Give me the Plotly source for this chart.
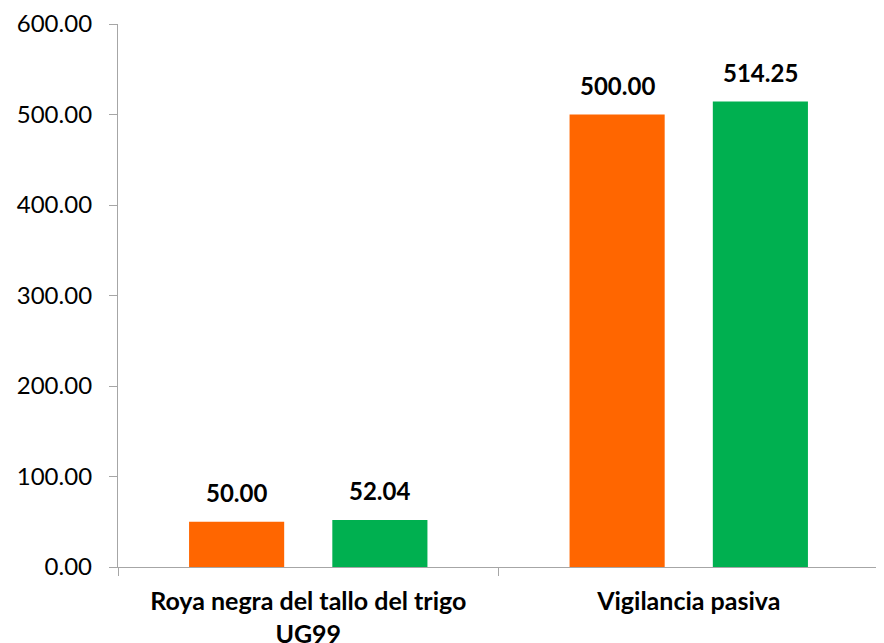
import plotly.graph_objects as go

categories = ["Roya negra del tallo del trigo<br>UG99", "Vigilancia pasiva"]
series_a = [50.00, 500.00]
series_b = [52.04, 514.25]
series_names = ["Programado", "Alcanzado"]
colors = ["#FF6600", "#00B050"]

# page body has an 8px default margin; size the figure to fit the window
W, H = 876, 635
ml, mr, mt, mb = 110, 5, 16, 76
bargap = 0.247
bargroupgap = 0.336
font = "Lato"

fig = go.Figure()
for name, vals, c in zip(series_names, [series_a, series_b], colors):
    fig.add_trace(go.Bar(x=categories, y=vals, name=name, marker=dict(color=c, line=dict(width=0)),
                         hoverinfo="y"))

# data labels
plot_w = W - ml - mr
cat_w = plot_w / len(categories)
slot = cat_w * (1 - bargap) / 2
offsets = [-slot / 2, slot / 2]
for vals, off in zip([series_a, series_b], offsets):
    for cat, v in zip(categories, vals):
        fig.add_annotation(x=cat, y=v, xref="x", yref="y", text=f"<b>{v:.2f}</b>",
                           showarrow=False, xshift=off, yshift=13, yanchor="bottom",
                           font=dict(family=font, size=24, color="black"))

fig.update_layout(
    width=W, height=H, margin=dict(l=ml, r=mr, t=mt, b=mb, pad=0),
    paper_bgcolor="white", plot_bgcolor="white",
    barmode="group", bargap=bargap, bargroupgap=bargroupgap,
    showlegend=False,
    font=dict(family=font, size=24, color="black"),
)
fig.update_xaxes(type="category", showline=True, linecolor="#A6A6A6", linewidth=1.3,
                 ticks="outside", tickson="boundaries", ticklen=8, tickcolor="#A6A6A6",
                 showgrid=False, tickfont=dict(family=font, size=25, color="black"),
                 ticklabelstandoff=12, automargin=False)
fig.update_xaxes(ticktext=[f"<b>{c}</b>" for c in categories], tickvals=categories)
fig.update_yaxes(range=[0, 600], dtick=100, tickformat=".2f", showline=True, linecolor="#A6A6A6",
                 linewidth=1.3, ticks="outside", ticklen=8, tickcolor="#A6A6A6", showgrid=False,
                 zeroline=False, tickfont=dict(family=font, size=24, color="black"),
                 ticklabelstandoff=12, automargin=False)

fig.write_html("out.html")
